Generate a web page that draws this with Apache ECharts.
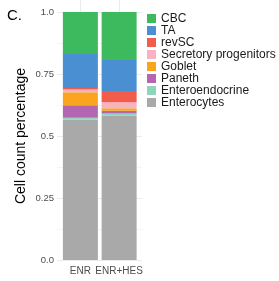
<!DOCTYPE html>
<html>
<head>
<meta charset="utf-8">
<script src="https://cdn.jsdelivr.net/npm/echarts@6/dist/echarts.min.js"></script>
<style>
  html, body { margin: 0; padding: 0; background: #fff; }
  #chart { width: 279px; height: 281px; }
</style>
</head>
<body>
<div id="chart"></div>
<script>
// legend order, top of bar first
var cellTypes = ["CBC", "TA", "revSC", "Secretory progenitors", "Goblet", "Paneth", "Enteroendocrine", "Enterocytes"];
var colors = ["#3dba5e", "#4a8fd1", "#f25c4a", "#f8b3c3", "#fba41e", "#b466b1", "#8ed5bb", "#a9a9a9"];
var conditions = ["ENR", "ENR+HES"];
var enr = [0.169, 0.137, 0.006, 0.012, 0.052, 0.050, 0.007, 0.567];
var enrHes = [0.194, 0.125, 0.045, 0.024, 0.010, 0.011, 0.008, 0.583];
var yTicks = [0, 0.25, 0.5, 0.75, 1];
var yTickLabels = ["0.0", "0.25", "0.5", "0.75", "1.0"];

var chart = echarts.init(document.getElementById("chart"));

// stacked from the bottom, so build series in reverse
var series = [];
for (var i = cellTypes.length - 1; i >= 0; i--) {
    series.push({
        name: cellTypes[i],
        type: "bar",
        stack: "all",
        barWidth: 35,
        xAxisIndex: 1,
        yAxisIndex: 1,
        itemStyle: { color: colors[i] },
        data: [enr[i], enrHes[i]]
    });
}

var font = "Liberation Sans";

var option = {
    animation: false,
    title: {
        text: "C.",
        left: 2,
        top: 3,
        textStyle: { fontSize: 15, fontWeight: "normal", color: "#000", fontFamily: font }
    },
    // grid 0: panel with the gridlines, grid 1: the bars
    grid: [
        { left: 57, right: 137, top: 12, bottom: 21 },
        { left: 61, right: 140.5, top: 12, bottom: 21 }
    ],
    legend: {
        orient: "vertical",
        left: 147,
        top: 12.5,
        padding: 0,
        itemWidth: 9,
        itemHeight: 9,
        itemGap: 0,
        icon: "rect",
        data: cellTypes,
        textStyle: { fontSize: 12, color: "#1a1a1a", fontFamily: font, lineHeight: 11.8 }
    },
    xAxis: [
        { type: "value", gridIndex: 0, show: false },
        {
            type: "category",
            gridIndex: 1,
            data: conditions,
            axisLine: { show: false },
            axisTick: {
                show: true,
                alignWithLabel: true,
                inside: true,
                length: 262,
                lineStyle: { color: "#ebebeb", width: 1 }
            },
            axisLabel: { interval: 0, fontSize: 10, color: "#4d4d4d", margin: 6, fontFamily: font }
        }
    ],
    yAxis: [
        {
            type: "value",
            gridIndex: 0,
            min: 0,
            max: 1,
            interval: 0.25,
            name: "Cell count percentage",
            nameLocation: "middle",
            nameGap: 29,
            nameTextStyle: { fontSize: 14, color: "#000", fontFamily: font },
            axisLine: { show: false },
            axisTick: { show: false },
            splitLine: { lineStyle: { color: "#ebebeb" } },
            minorSplitLine: { show: true, lineStyle: { color: "#f5f5f5" } },
            minorTick: { splitNumber: 2 },
            axisLabel: {
                fontSize: 9.5,
                color: "#4d4d4d",
                margin: 3,
                fontFamily: font,
                formatter: function (v) {
                    var k = yTicks.indexOf(v);
                    return k >= 0 ? yTickLabels[k] : "";
                }
            }
        },
        { type: "value", gridIndex: 1, min: 0, max: 1, show: false }
    ],
    series: series
};

chart.setOption(option);
</script>
</body>
</html>
